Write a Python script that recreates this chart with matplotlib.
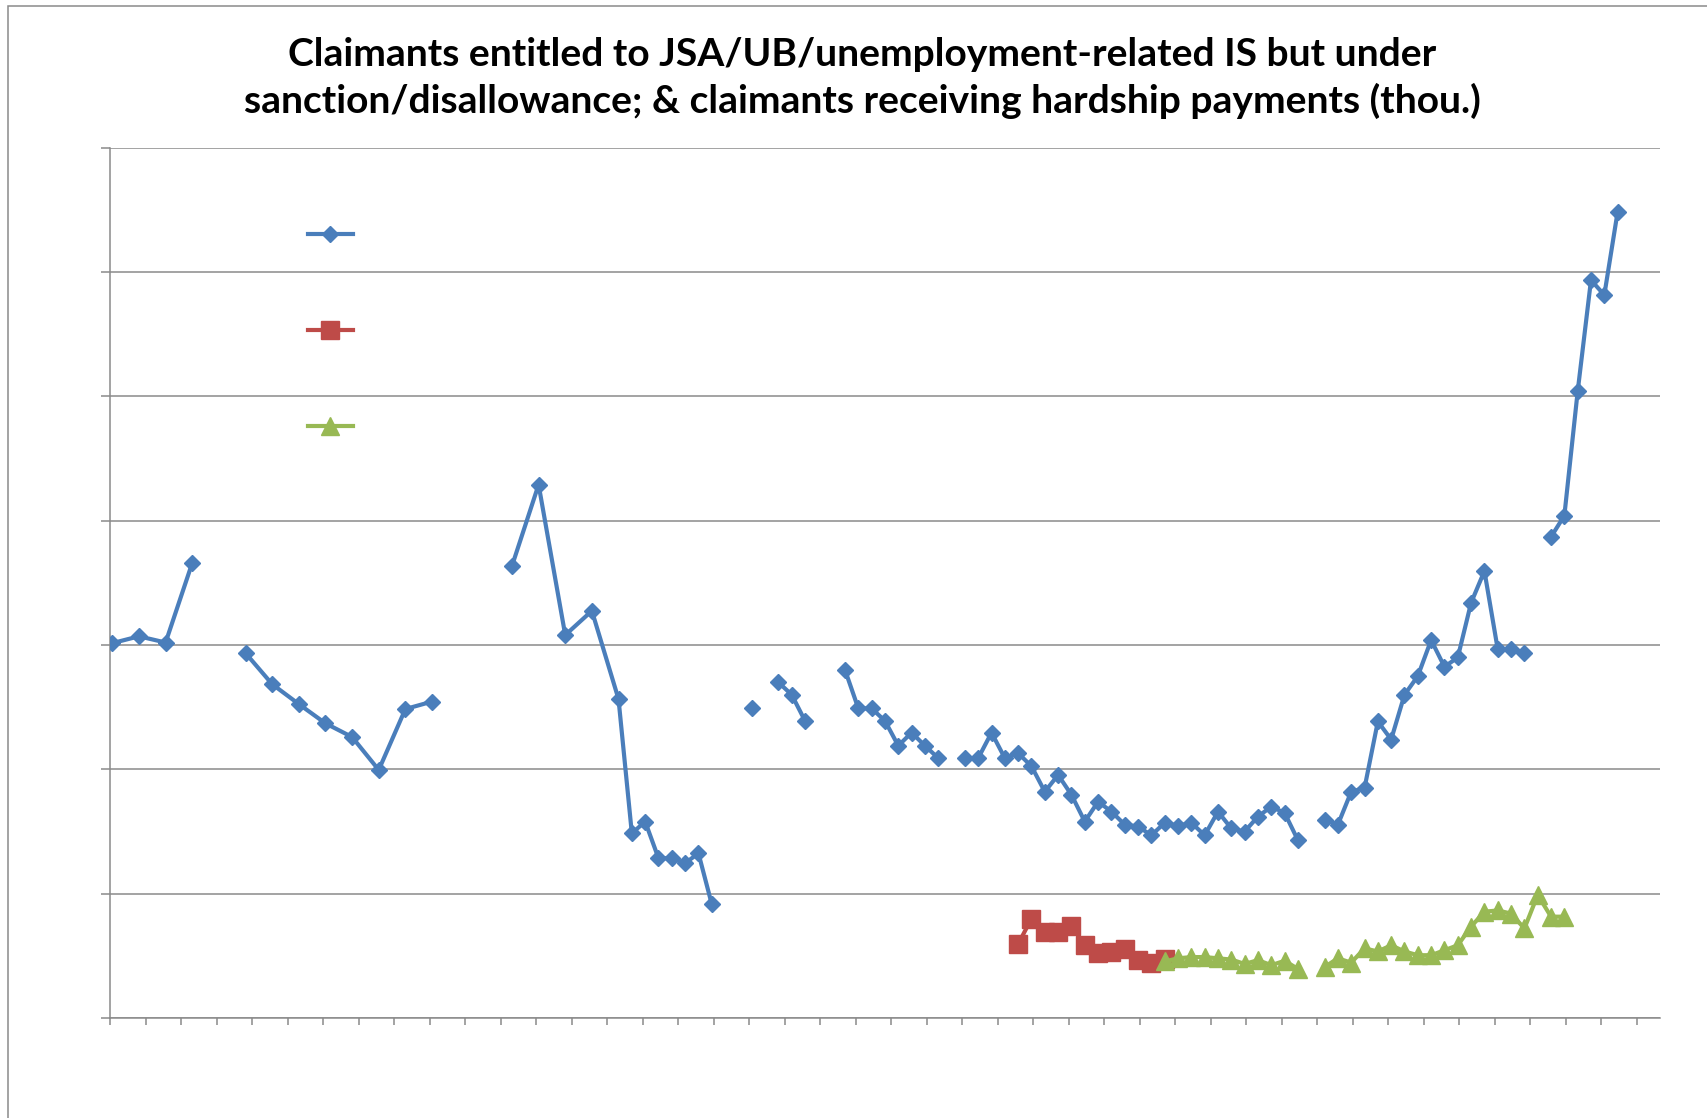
import numpy as np
import matplotlib
matplotlib.use("Agg")
import matplotlib.pyplot as plt
from matplotlib.patches import Rectangle

# month index from the start of the series; None breaks the line
blue_months = [0, 2, 4, 6, 8, 10, 12, 14, 16, 18, 20, 22, 24, 26,
               30, 32, 34, 36, 38, 39, 40, 41, 42, 43, 44, 45, 46,
               48, 49, 50, 51, 52, 53,
               55, 56, 57, 58, 59, 60, 61, 62, 63,
               64, 65, 66, 67, 68, 69, 70, 71, 72, 73, 74, 75, 76, 77,
               78, 79, 80, 81, 82, 83, 84, 85, 86, 87, 88, 89, 90,
               91, 92, 93, 94, 95, 96, 97, 98, 99, 100, 101, 102, 103,
               104, 105, 106, 107, 108, 109, 110, 111, 112, 113]
blue_values = [60.3, 61.4, 60.4, 73.2, None, 58.7, 53.7, 50.5, 47.4, 45.2, 39.9, 49.7, 50.9, None,
               72.7, 85.8, 61.6, 65.5, 51.3, 29.7, 31.6, 25.7, 25.7, 24.9, 26.5, 18.3, None,
               49.9, None, 54.0, 52.0, 47.8, None,
               56.0, 49.8, 49.8, 47.8, 43.8, 45.9, 43.8, 41.8, None,
               41.8, 41.8, 45.9, 41.8, 42.6, 40.5, 36.4, 39.1, 35.9, 31.6, 34.8, 33.2, 31.1, 30.8,
               29.4, 31.4, 30.9, 31.4, 29.4, 33.2, 30.5, 30.0, 32.4, 34.0, 33.0, 28.6, None,
               31.9, 31.1, 36.4, 37.0, 47.7, 44.8, 52.0, 55.0, 60.8, 56.5, 58.0, 66.8, 71.9,
               59.3, 59.3, 58.7, None, 77.4, 80.8, 100.8, 118.7, 116.3, 129.7]

red_months = [68, 69, 70, 71, 72, 73, 74, 75, 76, 77, 78, 79]
red_values = [11.9, 16.0, 13.9, 13.9, 14.8, 11.8, 10.5, 10.6, 11.1, 9.4, 8.9, 9.5]

green_months = [79, 80, 81, 82, 83, 84, 85, 86, 87, 88, 89, 90,
                91, 92, 93, 94, 95, 96, 97, 98, 99, 100, 101, 102, 103,
                104, 105, 106, 107, 108, 109]
green_values = [9.1, 9.6, 9.8, 9.8, 9.6, 9.4, 8.7, 9.3, 8.5, 9.2, 7.9, None,
                8.2, 9.6, 8.9, 11.2, 10.7, 11.7, 10.7, 10.1, 10.1, 10.9, 11.7, 14.7, 17.1,
                17.3, 16.8, 14.4, 19.8, 16.3, 16.3]

title = ("Claimants entitled to JSA/UB/unemployment-related IS but under\n"
         "sanction/disallowance; & claimants receiving hardship payments (thou.)")

BLUE = "#4A7EBB"
RED = "#BE4B48"
GREEN = "#98B954"
GRID = "#8a8a8a"

fig = plt.figure(figsize=(17.08, 11.18), dpi=100)
ax = fig.add_axes([110 / 1708, 1 - 1018 / 1118, 1550 / 1708, (1018 - 147.7) / 1118])

bx = np.array(blue_months, dtype=float)
by = np.array(blue_values, dtype=float)
rx = np.array(red_months, dtype=float)
ry = np.array(red_values, dtype=float)
gx = np.array(green_months, dtype=float)
gy = np.array(green_values, dtype=float)

l1, = ax.plot(bx, by, color=BLUE, lw=3.0, marker="D", ms=8.3, mec=BLUE, mfc=BLUE, zorder=3)
l2, = ax.plot(rx, ry, color=RED, lw=3.0, marker="s", ms=12.5, mec=RED, mfc=RED, zorder=3)
l3, = ax.plot(gx, gy, color=GREEN, lw=3.0, marker="^", ms=12.5, mec=GREEN, mfc=GREEN, zorder=4)

xlo, xhi = -0.173, 116.18
ax.set_xlim(xlo, xhi)
ax.set_ylim(0, 140)
ax.set_yticks(np.arange(0, 141, 20))
ax.set_xticks(xlo + 2.665 * np.arange(44))
ax.tick_params(axis="y", length=6.5, width=1.1, color=GRID, labelleft=False)
ax.tick_params(axis="x", length=5, width=1.1, color=GRID, labelbottom=False)
ax.grid(axis="y", color=GRID, lw=1.1)
ax.set_axisbelow(True)
for side in ["top", "right"]:
    ax.spines[side].set_visible(False)
for side in ["left", "bottom"]:
    ax.spines[side].set_color(GRID)
    ax.spines[side].set_linewidth(1.1)

# legend keys without labels
ax.legend([l1, l2, l3], [" ", " ", " "], loc="upper left",
          bbox_to_anchor=((308 - 110) / 1550, (1018 - 222) / (1018 - 147.7)),
          frameon=False, fontsize=20, handlelength=1.62, handletextpad=0,
          labelspacing=2.45, borderpad=0, borderaxespad=0, numpoints=1)

fig.text(862 / 1708, 1 - 78 / 1118, title, ha="center", va="center",
         fontsize=28.1, fontweight="bold", family="Lato", linespacing=1.37)

# outer chart frame
fig.add_artist(Rectangle((8.3 / 1708, -0.1), 1.2, 0.1 + 1 - 6 / 1118, fill=False,
                         edgecolor=GRID, lw=1.1, transform=fig.transFigure))

fig.savefig("out.png", dpi=100)
